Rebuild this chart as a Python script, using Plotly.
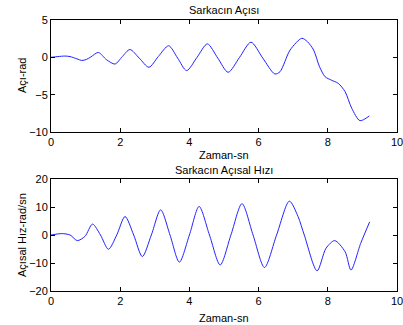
import plotly.graph_objects as go

# Sarkacın Açısı (angle, rad) vs time (s)
t_angle = [0, 0.2, 0.4, 0.55, 0.75, 0.89, 1.03, 1.15, 1.37, 1.6, 1.85, 2.06, 2.28, 2.55, 2.83, 3.1, 3.4,
           3.66, 3.92, 4.22, 4.52, 4.82, 5.12, 5.45, 5.78, 6.12, 6.47, 6.62, 6.91, 7.25, 7.41, 7.59, 7.76,
           7.92, 8.1, 8.3, 8.5, 8.69, 8.93, 9.2]
angle = [0, 0.1, 0.17, 0.1, -0.2, -0.42, -0.27, 0.05, 0.65, -0.3, -0.9, 0.1, 1.05, -0.1, -1.33, 0.1, 1.55,
         -0.1, -1.78, 0.0, 1.8, -0.1, -2.0, 0.0, 2.03, -0.1, -2.23, -1.92, 0.98, 2.55, 2.1, 0.98, -1.25,
         -2.59, -3.05, -3.48, -4.6, -6.8, -8.48, -7.85]

# Sarkacın Açısal Hızı (angular velocity, rad/s) vs time (s)
t_vel = [0, 0.31, 0.55, 0.76, 0.98, 1.2, 1.43, 1.66, 1.9, 2.14, 2.39, 2.64, 2.9, 3.17, 3.44, 3.71, 4.0,
         4.28, 4.58, 4.89, 5.2, 5.52, 5.84, 6.17, 6.52, 6.89, 7.14, 7.32, 7.69, 7.95, 8.2, 8.5, 8.67, 8.95, 9.21]
velocity = [0, 0.5, 0.0, -2.0, -0.5, 3.9, 0, -5.1, 0, 6.6, 0, -7.7, 0, 9.0, 0, -9.7, 0,
            10.2, 0, -10.7, 0, 11.2, 0, -11.6, 0, 12.1, 6.6, 0, -12.8, -4.7, -2.0, -6.0, -12.5, -3.0, 4.7]

x_ticks = [0, 2, 4, 6, 8, 10]
angle_ticks = [-10, -5, 0, 5]
vel_ticks = [-20, -10, 0, 10, 20]

W, H = 403, 325
def px(x): return x / W
def py(y): return 1 - y / H

fig = go.Figure()
line = dict(color="#2222ff", width=1, shape="spline", smoothing=0.8)
fig.add_trace(go.Scatter(x=t_angle, y=angle, mode="lines", line=line, xaxis="x", yaxis="y", hoverinfo="skip"))
fig.add_trace(go.Scatter(x=t_vel, y=velocity, mode="lines", line=line, xaxis="x2", yaxis="y2", hoverinfo="skip"))

font = dict(family="Liberation Sans, Arial, sans-serif", size=11, color="black")
ax_common = dict(showline=True, linecolor="black", linewidth=1, mirror="ticks", ticks="inside",
                 ticklen=4, tickcolor="black", showgrid=False, zeroline=False, tickfont=font,
                 automargin=False, ticklabeloverflow="allow")

xd = [px(51), px(397)]
fig.update_layout(
    width=W, height=H, margin=dict(l=0, r=0, t=0, b=0, autoexpand=False),
    paper_bgcolor="white", plot_bgcolor="white", showlegend=False, font=font,
    xaxis=dict(domain=xd, range=[0, 10], tickvals=x_ticks, anchor="y", **ax_common),
    yaxis=dict(domain=[py(132), py(20)], range=[-10, 5], tickvals=angle_ticks, anchor="x", **ax_common),
    xaxis2=dict(domain=xd, range=[0, 10], tickvals=x_ticks, anchor="y2", **ax_common),
    yaxis2=dict(domain=[py(291), py(179)], range=[-20, 20], tickvals=vel_ticks, anchor="x2", **ax_common),
)

cx = px((51 + 397) / 2)
ann = [
    dict(text="Sarkacın Açısı", x=cx, y=py(10), size=11),
    dict(text="Zaman-sn", x=cx, y=py(155), size=11),
    dict(text="Sarkacın Açısal Hızı", x=cx, y=py(170), size=11),
    dict(text="Zaman-sn", x=cx, y=py(318), size=11),
]
for a in ann:
    fig.add_annotation(text=a["text"], x=a["x"], y=a["y"], xref="paper", yref="paper",
                       showarrow=False, xanchor="center", yanchor="middle",
                       font=dict(family=font["family"], size=a["size"], color="black"))
fig.add_annotation(text="Açı-rad", x=px(22), y=py(76), xref="paper", yref="paper", showarrow=False,
                   textangle=-90, xanchor="center", yanchor="middle", font=font)
fig.add_annotation(text="Açısal Hız-rad/sn", x=px(22), y=py(235), xref="paper", yref="paper", showarrow=False,
                   textangle=-90, xanchor="center", yanchor="middle", font=font)

fig.write_html("out.html", config={"displayModeBar": False},
               post_script="document.body.style.margin='0';document.body.style.overflow='hidden';")
